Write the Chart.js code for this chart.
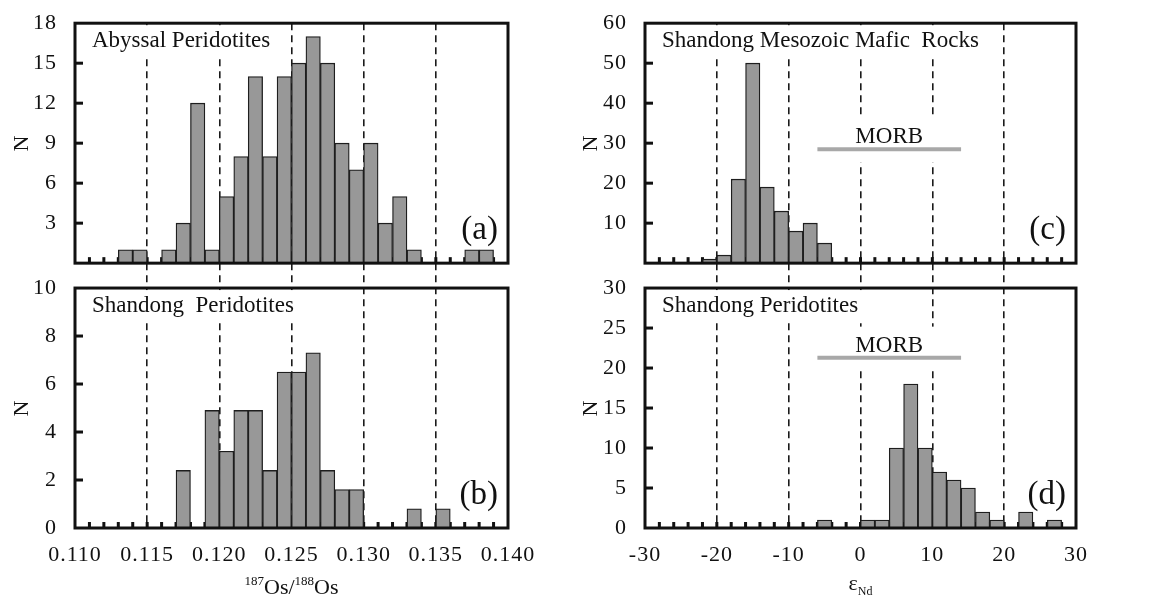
<!DOCTYPE html>
<html lang="en">
<head>
<meta charset="utf-8">
<title>Os and Nd isotope histograms</title>
<script src="https://cdn.jsdelivr.net/npm/chart.js@4.4.1/dist/chart.umd.min.js"></script>
<style>
  html, body { margin: 0; padding: 0; background: #fff; }
  canvas { position: absolute; top: 0; }
  #osChart { left: 0; }
  #ndChart { left: 576px; }
</style>
</head>
<body>
<canvas id="osChart" width="576" height="599"></canvas>
<canvas id="ndChart" width="577" height="599"></canvas>
<script>
// 187Os/188Os histograms: lower bin edges, bin width 0.001
const osBinEdges = [0.110, 0.111, 0.112, 0.113, 0.114, 0.115, 0.116, 0.117, 0.118, 0.119,
                    0.120, 0.121, 0.122, 0.123, 0.124, 0.125, 0.126, 0.127, 0.128, 0.129,
                    0.130, 0.131, 0.132, 0.133, 0.134, 0.135, 0.136, 0.137, 0.138, 0.139];
const osBinWidth = 0.001;
const abyssalOs  = [0, 0, 0, 1, 1, 0, 1, 3, 12, 1, 5, 8, 14, 8, 14, 15, 17, 15, 9, 7,
                    9, 3, 5, 1, 0, 0, 0, 1, 1, 0];
const shandongOs = [0, 0, 0, 0, 0, 0, 0, 2.4, 0, 4.9, 3.2, 4.9, 4.9, 2.4, 6.5, 6.5, 7.3, 2.4, 1.6, 1.6,
                    0, 0, 0, 0.8, 0, 0.8, 0, 0, 0, 0];
const osTicks = [0.110, 0.115, 0.120, 0.125, 0.130, 0.135, 0.140];

// eNd histograms: lower bin edges, bin width 2
const ndBinEdges = [-30, -28, -26, -24, -22, -20, -18, -16, -14, -12,
                    -10, -8, -6, -4, -2, 0, 2, 4, 6, 8,
                    10, 12, 14, 16, 18, 20, 22, 24, 26, 28];
const ndBinWidth = 2;
const maficNd    = [0, 0, 0, 0, 1, 2, 21, 50, 19, 13, 8, 10, 5, 0, 0, 0, 0, 0, 0, 0,
                    0, 0, 0, 0, 0, 0, 0, 0, 0, 0];
const shandongNd = [0, 0, 0, 0, 0, 0, 0, 0, 0, 0, 0, 0, 1, 0, 0, 1, 1, 10, 18, 10,
                    7, 6, 5, 2, 1, 0, 2, 0, 1, 0];
const ndTicks = [-30, -20, -10, 0, 10, 20, 30];

// MORB eNd range and the height of its bar in each panel
const morbRange = [-6, 14];
const morbLevelMafic = 28.5;
const morbLevelPeridotite = 21.3;

const FONT = "'Liberation Serif', 'Times New Roman', serif";
const INK = '#111';
const BAR_FILL = '#989898';
const BAR_EDGE = '#1e1e1e';

function drawParts(ctx, parts, cx, baseline) {
  let total = 0;
  parts.forEach(p => {
    ctx.font = p.size + 'px ' + FONT;
    p.w = ctx.measureText(p.text).width;
    total += p.w;
  });
  let x = cx - total / 2;
  ctx.textAlign = 'left';
  ctx.textBaseline = 'alphabetic';
  parts.forEach(p => {
    ctx.font = p.size + 'px ' + FONT;
    ctx.fillText(p.text, x, baseline + p.dy);
    x += p.w;
  });
}

// boxes, inner ticks, panel titles, tags and the MORB label
function decorPlugin(col) {
  const panels = [['yTop', col.top], ['yBot', col.bottom]];
  return {
    id: 'panelDecor',
    beforeDraw(chart) {
      chart.ctx.letterSpacing = '1px';
    },
    beforeDatasetsDraw(chart) {
      const { ctx, chartArea: area, scales } = chart;
      const xs = scales.x;
      ctx.save();
      ctx.letterSpacing = '0px';
      panels.forEach(([yId, p]) => {
        const ys = scales[yId];
        ctx.fillStyle = INK;
        col.edges.slice(1).forEach(e => {
          const px = xs.getPixelForValue(e);
          ctx.fillRect(px - 1.5, ys.bottom - 6, 3, 6);
        });
        ctx.font = '23px ' + FONT;
        const w = ctx.measureText(p.title).width;
        const tx = area.left + 17;
        const base = ys.top + 24;
        ctx.fillStyle = '#fff';
        ctx.fillRect(tx - 4, ys.top + 2, w + 8, base + 8 - ys.top - 2);
        if (p.morb != null) {
          const x0 = xs.getPixelForValue(col.morbRange[0]);
          const x1 = xs.getPixelForValue(col.morbRange[1]);
          const ly = ys.getPixelForValue(p.morb);
          ctx.fillRect(x0, ly - 31, x1 - x0, 44);
        }
      });
      ctx.restore();
    },
    afterDatasetsDraw(chart) {
      const { ctx, chartArea: area, scales } = chart;
      const xs = scales.x;
      ctx.save();
      ctx.letterSpacing = '0px';
      ctx.fillStyle = INK;
      ctx.strokeStyle = INK;
      panels.forEach(([yId, p]) => {
        const ys = scales[yId];
        ys.ticks.forEach(t => {
          if (t.value <= ys.min || t.value >= ys.max) return;
          const py = ys.getPixelForValue(t.value);
          ctx.fillRect(area.left, py - 1.5, 8, 3);
        });
        ctx.lineWidth = 3;
        ctx.strokeRect(area.left, ys.top, area.right - area.left, ys.bottom - ys.top);

        ctx.textBaseline = 'alphabetic';
        ctx.textAlign = 'left';
        ctx.font = '23px ' + FONT;
        ctx.fillText(p.title, area.left + 17, ys.top + 24);

        ctx.textAlign = 'right';
        ctx.font = '33px ' + FONT;
        ctx.fillText(p.tag, area.right - 10, ys.bottom - 24);

        if (p.morb != null) {
          const mid = (col.morbRange[0] + col.morbRange[1]) / 2;
          ctx.textAlign = 'center';
          ctx.font = '23px ' + FONT;
          ctx.fillText('MORB', xs.getPixelForValue(mid), ys.getPixelForValue(p.morb) - 6);
        }
      });
      drawParts(ctx, col.xTitle, (area.left + area.right) / 2, chart.height - col.xTitleDrop);
      ctx.restore();
    }
  };
}

function makeColumn(canvasId, col) {
  const hist = counts => col.edges.map((e, i) => ({ x: e + col.binWidth / 2, y: counts[i] }));
  const lastTick = col.xTicks.length - 1;

  const barSet = (p, yId) => ({
    label: p.title,
    data: hist(p.counts),
    xAxisID: 'x',
    yAxisID: yId,
    backgroundColor: BAR_FILL,
    borderColor: BAR_EDGE,
    borderWidth: 1.3,
    grouped: false,
    categoryPercentage: 1,
    barPercentage: 1
  });
  const datasets = [barSet(col.top, 'yTop'), barSet(col.bottom, 'yBot')];
  [['yTop', col.top], ['yBot', col.bottom]].forEach(([yId, p]) => {
    if (p.morb == null) return;
    datasets.push({
      type: 'line',
      label: 'MORB',
      data: col.morbRange.map(v => ({ x: v, y: p.morb })),
      xAxisID: 'x',
      yAxisID: yId,
      borderColor: '#a8a8a8',
      borderWidth: 4,
      borderCapStyle: 'butt',
      pointRadius: 0
    });
  });

  const yAxis = (p, weight, stackWeight) => ({
    type: 'linear',
    position: 'left',
    stack: 'col',
    stackWeight: stackWeight,
    weight: weight,
    min: 0,
    max: p.max,
    afterFit: s => { s.width = col.axisWidth; },
    grid: { display: false },
    border: { display: false },
    ticks: {
      stepSize: p.step,
      autoSkip: false,
      padding: 10,
      color: INK,
      font: { family: FONT, size: 22 },
      callback: v => (v === 0 && !p.showZero) ? '' : v
    },
    title: {
      display: true,
      text: 'N',
      color: INK,
      font: { family: FONT, size: 22 },
      padding: { top: col.nPad, bottom: 0 }
    }
  });

  return new Chart(document.getElementById(canvasId), {
    type: 'bar',
    data: { datasets: datasets },
    options: {
      responsive: false,
      animation: false,
      layout: { padding: { top: 21, right: col.padRight, left: 0, bottom: 0 } },
      plugins: { legend: { display: false }, tooltip: { enabled: false } },
      scales: {
        x: {
          type: 'linear',
          position: 'bottom',
          min: col.xTicks[0],
          max: col.xTicks[lastTick],
          offset: false,
          afterFit: s => { s.height = 71; },
          afterBuildTicks: s => { s.ticks = col.xTicks.map(value => ({ value })); },
          grid: {
            offset: false,
            drawTicks: false,
            lineWidth: 1.6,
            color: c => (c.index === 0 || c.index === lastTick) ? 'rgba(0,0,0,0)' : '#1a1a1a'
          },
          border: { display: false, dash: [7, 5] },
          ticks: {
            padding: 14,
            color: INK,
            maxRotation: 0,
            autoSkip: false,
            font: { family: FONT, size: 22 },
            callback: col.tickFormat
          }
        },
        yTop: yAxis(col.top, 3, 241),
        yGap: {
          type: 'linear',
          position: 'left',
          stack: 'col',
          stackWeight: 25,
          weight: 2,
          afterFit: s => { s.width = col.axisWidth; },
          grid: { display: false },
          border: { display: false },
          ticks: { display: false }
        },
        yBot: yAxis(col.bottom, 1, 241)
      }
    },
    plugins: [decorPlugin(col)]
  });
}

makeColumn('osChart', {
  edges: osBinEdges,
  binWidth: osBinWidth,
  xTicks: osTicks,
  tickFormat: v => v.toFixed(3),
  axisWidth: 75,
  padRight: 68,
  nPad: 9,
  xTitleDrop: 5,
  xTitle: [
    { text: '187', size: 13, dy: -9 },
    { text: 'Os/', size: 22, dy: 0 },
    { text: '188', size: 13, dy: -9 },
    { text: 'Os', size: 22, dy: 0 }
  ],
  top:    { title: 'Abyssal Peridotites', tag: '(a)', counts: abyssalOs, max: 18, step: 3, showZero: false },
  bottom: { title: 'Shandong  Peridotites', tag: '(b)', counts: shandongOs, max: 10, step: 2, showZero: true }
});

makeColumn('ndChart', {
  edges: ndBinEdges,
  binWidth: ndBinWidth,
  xTicks: ndTicks,
  tickFormat: v => String(v),
  axisWidth: 69,
  padRight: 77,
  nPad: 2,
  xTitleDrop: 9,
  morbRange: morbRange,
  xTitle: [
    { text: '\u03b5', size: 22, dy: 0 },
    { text: 'Nd', size: 12, dy: 5 }
  ],
  top:    { title: 'Shandong Mesozoic Mafic  Rocks', tag: '(c)', counts: maficNd, max: 60, step: 10, showZero: false, morb: morbLevelMafic },
  bottom: { title: 'Shandong Peridotites', tag: '(d)', counts: shandongNd, max: 30, step: 5, showZero: true, morb: morbLevelPeridotite }
});
</script>
</body>
</html>
